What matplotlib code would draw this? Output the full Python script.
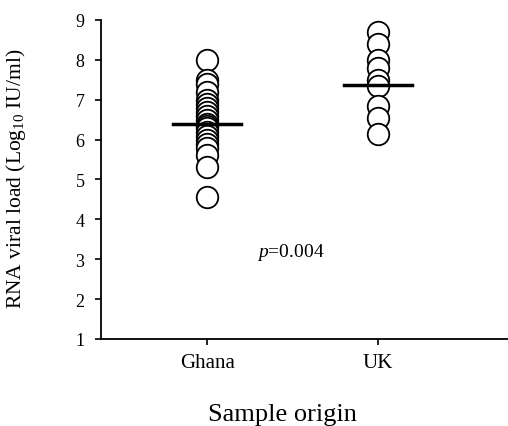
import matplotlib.pyplot as plt
import numpy as np

plt.rcParams['font.family'] = ['Liberation Serif', 'DejaVu Serif']
plt.rcParams['mathtext.fontset'] = 'custom'
plt.rcParams['mathtext.rm'] = 'Liberation Serif'
plt.rcParams['mathtext.it'] = 'Liberation Serif:italic'

groups = ["Ghana", "UK"]
ghana = [8.0, 7.5, 7.4, 7.2, 7.0, 6.9, 6.8, 6.7, 6.6, 6.5, 6.4, 6.35,
         6.3, 6.2, 6.1, 6.0, 5.9, 5.8, 5.6, 5.3, 4.55]
uk = [8.7, 8.4, 8.0, 7.8, 7.5, 7.35, 6.85, 6.55, 6.15]
medians = [6.4, 7.37]
p_text = "$p$=0.004"

fig = plt.figure(figsize=(5.08, 4.27), dpi=100)
ax = fig.add_axes([0.199, 0.204, 0.801, 0.747])

for i, vals in enumerate([ghana, uk]):
    xpos = i + 1
    ax.plot([xpos] * len(vals), vals, 'o', ms=15.5, mfc='white',
            mec='black', mew=1.3, zorder=2)
    # median bar
    ax.plot([xpos - 0.2, xpos + 0.2], [medians[i], medians[i]],
            color='black', lw=2.5, zorder=3)

ax.text(1.49, 3.2, p_text, fontsize=14, ha='center', va='center')

ax.set_xlim(0.38, 2.76)
ax.set_ylim(1, 9)
ax.set_yticks(range(1, 10))
ax.set_xticks([1, 2])
ax.set_xticklabels(groups)
ax.tick_params(direction='out', length=4, width=1.2)
ax.tick_params(axis='y', labelsize=13, pad=8)
ax.tick_params(axis='x', labelsize=15, pad=6)
ax.spines['top'].set_visible(False)
ax.spines['right'].set_visible(False)
ax.spines['left'].set_linewidth(1.3)
ax.spines['bottom'].set_linewidth(1.3)
ax.set_ylabel("RNA viral load (Log$_{10}$ IU/ml)", fontsize=15.5)
ax.yaxis.set_label_coords(-0.18, 0.505)
ax.set_xlabel("Sample origin", fontsize=19)
ax.xaxis.set_label_coords(0.445, -0.2)

fig.savefig("out.png", dpi=100)
